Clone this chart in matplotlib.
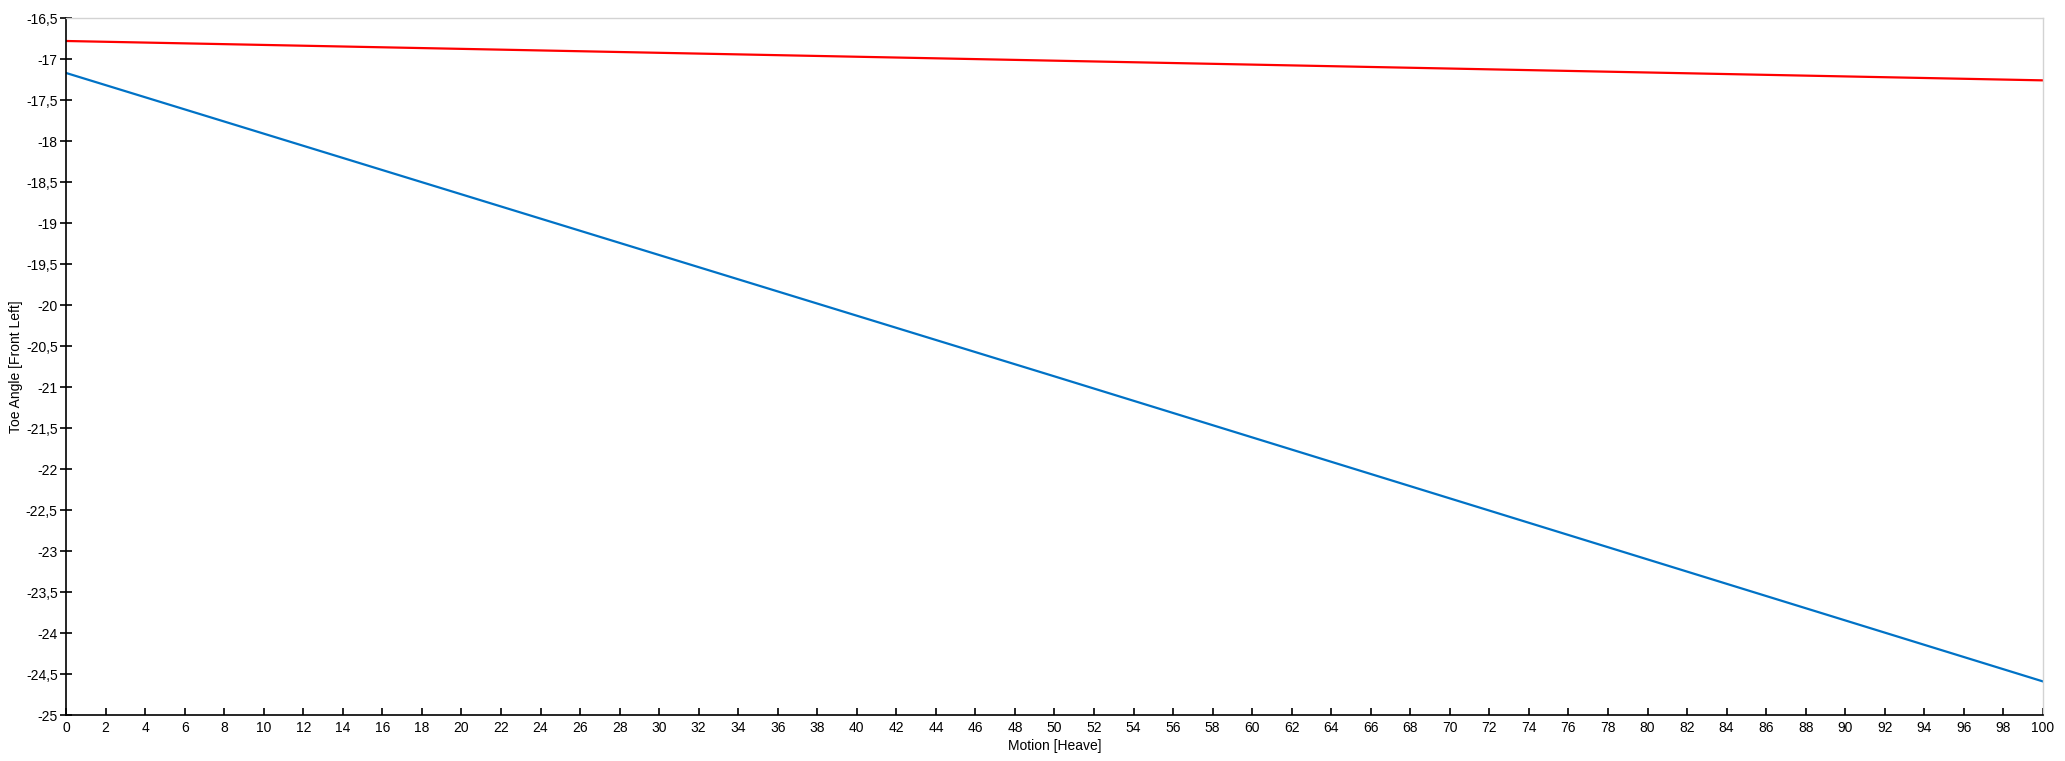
import matplotlib
matplotlib.use("Agg")
from matplotlib import pyplot as plt
from matplotlib.ticker import MultipleLocator, FuncFormatter

# values
motion = [0, 50, 100]
toe_red = [-16.78, -17.02, -17.26]
toe_blue = [-17.17, -20.87, -24.59]

x_ticks = list(range(0, 101, 2))

plt.rcParams["font.family"] = ["Liberation Sans", "DejaVu Sans"]
font_size = 10

fig = plt.figure(figsize=(20.65, 7.61), dpi=100)
ax = fig.add_axes([0.032, 0.0604, 0.9573, 0.9159])

ax.plot(motion, toe_red, color="#ff0000", linewidth=1.6)
ax.plot(motion, toe_blue, color="#0072c6", linewidth=1.6)

ax.set_xlim(0, 100)
ax.set_ylim(-25, -16.5)
ax.set_xticks(x_ticks)
ax.yaxis.set_major_locator(MultipleLocator(0.5))
ax.yaxis.set_major_formatter(FuncFormatter(lambda v, p: ("%g" % v).replace(".", ",")))

ax.tick_params(axis="x", direction="in", length=5, width=1.2, pad=4, labelsize=font_size)
ax.tick_params(axis="y", direction="inout", length=8, width=1.2, pad=2, labelsize=font_size)

for side in ["top", "right"]:
    ax.spines[side].set_color("#d3d3d3")
    ax.spines[side].set_linewidth(1)
for side in ["left", "bottom"]:
    ax.spines[side].set_color("black")
    ax.spines[side].set_linewidth(1.2)

ax.set_xlabel("Motion [Heave]", fontsize=font_size, labelpad=3)
ax.set_ylabel("Toe Angle [Front Left]", fontsize=font_size, labelpad=2)

fig.savefig("out.png", dpi=100)
